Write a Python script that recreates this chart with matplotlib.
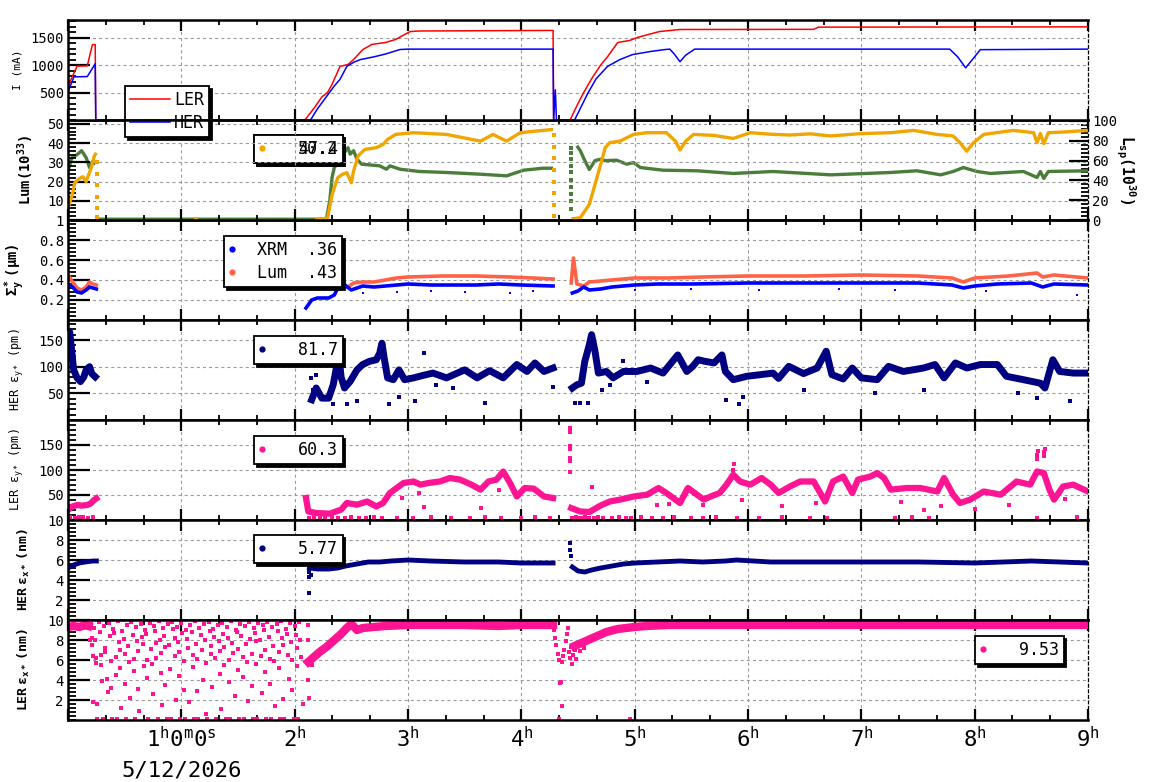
import numpy as np
import matplotlib
matplotlib.use('Agg')
import matplotlib.pyplot as plt
from matplotlib.lines import Line2D
from matplotlib.ticker import MultipleLocator, AutoMinorLocator
import matplotlib.transforms as mtrans

plt.rcParams.update({
    'font.family': ['DejaVu Sans Mono', 'DejaVu Sans'],
    'mathtext.fontset': 'custom',
    'mathtext.rm': 'DejaVu Sans Mono',
    'mathtext.it': 'DejaVu Sans Mono:italic',
    'mathtext.bf': 'DejaVu Sans Mono:bold',
    'mathtext.sf': 'DejaVu Sans Mono',
    'mathtext.default': 'rm',
    'lines.scale_dashes': False,
})
nan = np.nan

# ---------------- data (time in hours) ----------------
# Panel 1: beam currents (mA)
ler_cur_t = [0.0, 0.08, 0.17, 0.215, 0.24, 0.245, 2.09, 2.18, 2.24, 2.29, 2.33, 2.40, 2.47, 2.52, 2.60,
             2.68, 2.80, 2.89, 2.97, 3.02, 3.10, 4.28, 4.285, 4.43, 4.50, 4.55, 4.62, 4.70, 4.76, 4.85,
             4.96, 5.02, 5.12, 5.22, 5.40, 6.58, 6.62, 9.0]
ler_cur_v = [615, 980, 985, 1370, 1375, 0, 0, 240, 420, 500, 650, 975, 1010, 1100, 1280,
             1375, 1410, 1465, 1556, 1610, 1620, 1630, 0, 0, 300, 500, 750, 1000, 1150, 1410,
             1450, 1500, 1556, 1610, 1647, 1650, 1690, 1695]
her_cur_t = [0.0, 0.053, 0.17, 0.24, 0.245, 2.14, 2.20, 2.30, 2.35, 2.40, 2.46, 2.52, 2.58, 2.70,
             2.80, 2.93, 3.00, 4.28, 4.285, 4.30, 4.31, 4.47, 4.59, 4.66, 4.76, 4.87, 4.98, 5.14,
             5.27, 5.31, 5.35, 5.40, 5.45, 5.53, 7.78, 7.85, 7.92, 7.98, 8.05, 9.0]
her_cur_v = [513, 786, 790, 1023, 0, 0, 200, 480, 620, 740, 975, 1050, 1100, 1150,
             1200, 1283, 1290, 1290, 0, 550, 0, 0, 500, 750, 975, 1100, 1190, 1247,
             1283, 1290, 1200, 1060, 1180, 1290, 1290, 1150, 950, 1100, 1280, 1290]

# Panel 2: luminosity (left axis, 1e33) and specific luminosity (right axis, 1e30)
lum_t = [0.0, 0.035, 0.06, 0.10, 0.13, 0.16, 0.185, 0.21, 0.23, 0.25, nan,
         2.18, 2.29, 2.33, 2.38, 2.42, 2.46, 2.50, 2.52, 2.56, 2.62, 2.72, 2.78, 2.82, 2.89, 3.05,
         3.34, 3.52, 3.64, 3.75, 3.87, 3.99, 4.14, 4.28, nan,
         4.44, 4.52, 4.60, 4.65, 4.70, 4.74, 4.78, 4.87, 4.99, 5.11, 5.28, 5.36, 5.40, 5.45, 5.52,
         5.70, 5.87, 6.02, 6.20, 6.37, 6.55, 6.73, 6.99, 7.26, 7.46, 7.67, 7.81, 7.87, 7.93, 7.99,
         8.08, 8.34, 8.52, 8.55, 8.58, 8.61, 8.65, 8.80, 9.0]
lum_v = [6.4, 12.6, 19.4, 21.5, 22.5, 20.0, 24.0, 28.0, 33.0, 35.0, nan,
         0.5, 0.8, 13.3, 22.0, 23.7, 24.6, 19.4, 25.5, 33.4, 36.7, 37.6, 39.3, 41.9, 44.5, 45.4,
         44.5, 42.4, 41.0, 44.5, 41.0, 45.4, 46.3, 47.1, nan,
         0.5, 1.2, 8.1, 18.5, 28.9, 37.6, 40.2, 41.0, 44.5, 45.4, 45.4, 41.0, 36.4, 41.0, 44.5,
         44.0, 42.4, 45.4, 44.6, 44.2, 44.8, 43.7, 44.9, 45.4, 46.6, 44.5, 43.7, 40.2, 35.8, 40.2,
         44.5, 46.6, 45.4, 40.2, 45.0, 39.7, 45.4, 45.8, 46.6]
lum_drop_t = [0.255, 0.255, 0.256, 0.256, 0.257, 0.257, 1.13,
              4.29, 4.29, 4.29, 4.29, 4.29, 4.29, 4.29, 4.29]
lum_drop_v = [30, 24, 18, 12, 6, 1.5, 0.5,
              44, 38, 32, 26, 20, 14, 8, 2]
lsp_t = [0.0, 0.035, 0.08, 0.12, 0.16, 0.19, 0.215, 0.24, nan,
         0.25, 2.28, 2.31, 2.33, 2.35, 2.40, 2.45, 2.47, 2.49, 2.52, 2.55, 2.59, 2.75, 2.81, 2.84,
         2.93, 3.10, 3.34, 3.63, 3.87, 4.02, 4.19, 4.28, nan,
         4.49, 4.52, 4.56, 4.60, 4.65, 4.70, 4.74, 4.84, 4.93, 4.99, 5.05, 5.25, 5.55, 5.87, 6.22,
         6.73, 7.26, 7.49, 7.70, 7.81, 7.90, 8.02, 8.14, 8.43, 8.55, 8.58, 8.61, 8.65, 9.0]
lsp_v = [49, 63, 66, 70, 63, 53, 59, 56, nan,
         0.8, 0.8, 19.7, 43, 53, 60, 70, 73, 66.5, 70, 61.4, 56.4, 54.7, 51.3, 54.7,
         51.3, 49, 48, 46.3, 44.6, 50.3, 52.3, 52.3, nan,
         75, 70, 60, 51, 60, 61.4, 60, 60.4, 56.4, 58, 53, 50.3, 49.7, 47, 49,
         45.6, 48, 49.7, 45.6, 49, 53, 49, 47, 49, 43, 49, 42, 49, 49.7]
lsp_drop_t = [4.44] * 10
lsp_drop_v = [73, 68, 62, 55, 48, 40, 33, 26, 19, 11]

# Panel 3: vertical beam size (um)
xrm_t = [0.0, 0.04, 0.08, 0.12, 0.16, 0.19, 0.22, 0.25, nan,
         2.10, 2.15, 2.20, 2.30, 2.35, 2.38, 2.41, 2.44, 2.50, 2.55, 2.60, 2.70, 2.80, 2.90, 3.00,
         3.20, 3.40, 3.60, 3.80, 4.00, 4.28, nan,
         4.45, 4.50, 4.55, 4.60, 4.70, 4.80, 5.00, 5.20, 5.50, 6.00, 6.50, 7.00, 7.50, 7.80, 7.90,
         8.00, 8.20, 8.50, 8.60, 8.70, 9.00]
xrm_v = [0.35, 0.33, 0.28, 0.27, 0.30, 0.33, 0.32, 0.31, nan,
         0.12, 0.20, 0.22, 0.22, 0.25, 0.32, 0.43, 0.35, 0.30, 0.32, 0.34, 0.33, 0.34, 0.35, 0.36,
         0.35, 0.35, 0.35, 0.36, 0.35, 0.34, nan,
         0.27, 0.29, 0.33, 0.30, 0.31, 0.33, 0.35, 0.36, 0.36, 0.37, 0.37, 0.37, 0.37, 0.35, 0.32,
         0.34, 0.36, 0.37, 0.33, 0.36, 0.35]
xrm_dots_t = [2.6, 2.9, 3.2, 3.5, 3.9, 4.1, 5.0, 5.5, 6.1, 6.8, 7.3, 8.1, 8.9]
xrm_dots_v = [0.27, 0.28, 0.29, 0.28, 0.27, 0.29, 0.30, 0.31, 0.30, 0.31, 0.30, 0.29, 0.25]
lsz_t = [0.0, 0.04, 0.08, 0.12, 0.16, 0.19, 0.22, 0.25, nan,
         2.32, 2.34, 2.37, 2.42, 2.47, 2.52, 2.60, 2.70, 2.80, 2.90, 3.00, 3.30, 3.60, 3.90, 4.10,
         4.28, nan,
         4.44, 4.46, 4.49, 4.55, 4.60, 4.70, 4.80, 5.00, 5.30, 5.60, 6.00, 6.50, 7.00, 7.50, 7.80,
         7.90, 8.00, 8.30, 8.55, 8.60, 8.70, 9.00]
lsz_v = [0.45, 0.38, 0.32, 0.30, 0.33, 0.38, 0.36, 0.35, nan,
         0.40, 0.62, 0.42, 0.37, 0.33, 0.37, 0.38, 0.38, 0.40, 0.42, 0.43, 0.44, 0.44, 0.43, 0.42,
         0.41, nan,
         0.37, 0.62, 0.36, 0.34, 0.38, 0.39, 0.40, 0.42, 0.42, 0.43, 0.44, 0.44, 0.45, 0.44, 0.42,
         0.38, 0.42, 0.44, 0.47, 0.43, 0.45, 0.42]

# Panel 4: HER vertical emittance (pm)
hey_t = [0.0, 0.015, 0.035, 0.05, 0.08, 0.11, 0.14, 0.16, 0.19, 0.21, 0.24, nan,
         2.15, 2.19, 2.24, 2.30, 2.34, 2.37, 2.39, 2.41, 2.44, 2.49, 2.55, 2.60, 2.66, 2.72, 2.75,
         2.77, 2.79, 2.82, 2.87, 2.92, 2.97, 3.05, 3.14, 3.22, 3.34, 3.50, 3.61, 3.72, 3.84, 3.96,
         4.05, 4.12, 4.20, 4.28, nan,
         4.45, 4.49, 4.53, 4.56, 4.60, 4.62, 4.65, 4.68, 4.75, 4.81, 4.90, 5.02, 5.14, 5.25, 5.38,
         5.46, 5.51, 5.56, 5.62, 5.70, 5.77, 5.80, 5.87, 5.99, 6.11, 6.22, 6.27, 6.36, 6.49, 6.61,
         6.69, 6.74, 6.84, 6.92, 7.00, 7.14, 7.24, 7.37, 7.55, 7.65, 7.73, 7.83, 7.93, 8.05, 8.20,
         8.28, 8.43, 8.58, 8.62, 8.69, 8.75, 8.87, 9.0]
hey_v = [137, 165, 125, 94, 79, 72, 81, 94, 100, 87, 81, nan,
         38, 60, 41, 41, 66, 100, 122, 80, 60, 72.5, 94, 104, 110, 113, 125,
         144, 116, 79, 75.6, 94, 75.6, 79, 84, 88, 79, 94, 79, 92.5, 79, 104,
         91, 107, 91, 97.5, nan,
         60, 66, 69, 110, 141, 160, 129, 88, 91, 79, 91, 91, 97.5, 88, 122,
         91, 100, 113, 110, 107, 122, 91, 75.6, 82, 85, 88, 78, 100.6, 87, 97.5,
         129, 85, 77, 97.5, 79, 75.6, 100.6, 91, 97.5, 104, 79, 107, 97.5, 104, 104,
         82, 75.6, 69, 60, 113, 91, 88, 88]
hey_dots_t = [2.19, 2.19, 2.19, 2.19, 2.22, 2.14, 2.16, 2.34, 2.46, 2.55, 2.83, 2.92, 3.06, 3.14,
              3.25, 3.40, 3.68, 4.28, 4.47, 4.52, 4.59, 4.71, 4.78, 4.90, 5.11, 5.81, 5.92, 5.96,
              6.49, 7.12, 7.55, 8.38, 8.55, 8.84]
hey_dots_v = [60, 85, 110, 135, 152, 79, 57, 30, 30, 36, 30, 44, 36, 126,
              66, 60, 32, 62, 32, 32, 32, 57, 66, 111, 72, 38, 30, 43,
              57, 51, 57, 51, 41, 35]

# Panel 5: LER vertical emittance (pm)
ley_t = [0.0, 0.035, 0.08, 0.12, 0.17, 0.20, 0.23, 0.25, nan,
         2.10, 2.12, 2.19, 2.31, 2.41, 2.46, 2.55, 2.64, 2.72, 2.78, 2.84, 2.90, 2.96, 3.05, 3.11,
         3.18, 3.28, 3.37, 3.46, 3.56, 3.64, 3.71, 3.78, 3.84, 3.90, 3.96, 4.03, 4.11, 4.20, 4.28, nan,
         4.44, 4.52, 4.60, 4.70, 4.78, 4.87, 4.99, 5.11, 5.21, 5.28, 5.40, 5.47, 5.55, 5.61, 5.67,
         5.75, 5.81, 5.87, 5.93, 6.02, 6.12, 6.20, 6.27, 6.37, 6.46, 6.58, 6.68, 6.75, 6.84, 6.92,
         6.97, 7.08, 7.14, 7.20, 7.26, 7.40, 7.52, 7.67, 7.73, 7.81, 7.87, 7.96, 8.08, 8.23, 8.37,
         8.49, 8.55, 8.61, 8.66, 8.70, 8.78, 8.87, 9.0]
ley_v = [20, 26.7, 30, 28.7, 30, 33, 40, 43, nan,
         44, 17, 14, 12.7, 20.7, 34, 30.7, 37, 27, 34, 54, 64, 74, 77, 70.7,
         74, 77, 84, 80.7, 70.7, 60.7, 77, 80.7, 97, 74, 47, 64, 62.7, 47, 44, nan,
         24, 17, 16, 29, 37, 40.7, 47, 50.7, 64, 54, 34, 64, 50.7, 40.7, 47,
         54, 70.7, 90.7, 77, 70.7, 84, 70.7, 54, 67, 77, 77, 37, 77, 87, 54,
         80.7, 87, 94, 84, 60.7, 64, 64, 57, 84, 50.7, 34, 40.7, 57, 50.7, 77,
         70.7, 97, 94, 60.7, 40.7, 67, 70.7, 57]
ley_dots_t = [4.43, 4.43, 4.43, 4.43, 4.43, 4.43, 4.43, 5.87, 5.88, 8.55, 8.55, 8.56, 8.61, 8.61,
              8.62, 3.14, 3.80, 3.64, 4.62, 5.20, 5.30, 5.60, 5.95, 6.30, 6.60, 7.35, 7.55, 7.70,
              8.00, 8.30, 8.80, 2.95, 3.10,
              0.02, 0.06, 0.10, 0.13, 0.18, 0.22, 2.13, 2.17, 2.22, 2.27, 2.33, 2.38, 2.44, 2.50,
              2.57, 2.63, 2.70, 2.77, 2.90, 3.04, 3.20, 3.38, 3.55, 3.68, 3.82, 4.00, 4.12, 4.25,
              4.45, 4.48, 4.50, 4.53, 4.56, 4.60, 4.64, 4.68, 4.72, 4.80, 4.86, 4.92, 4.97, 5.06,
              5.15, 5.25, 5.35, 5.50, 5.60, 5.72, 5.90, 6.10, 6.30, 6.55, 6.70, 7.30, 7.45, 7.60,
              8.55, 8.90]
ley_dots_v = [184, 176, 148, 142, 125, 118, 96, 100, 112, 122, 130, 138, 128, 136,
              143, 27, 61, 24, 67, 30, 33, 31, 40, 28, 34, 36, 20, 29,
              22, 30, 42, 44, 55,
              6, 5, 7, 6, 5, 7, 5, 6, 4, 5, 6, 5, 4, 6,
              5, 4, 6, 5, 4, 5, 6, 4, 5, 6, 4, 5, 6, 4,
              5, 6, 4, 5, 6, 4, 5, 6, 4, 5, 6, 4, 5, 6,
              4, 5, 6, 5, 4, 6, 5, 4, 6, 5, 4, 5, 6, 4,
              5, 6]

# Panel 6: HER horizontal emittance (nm)
hex_t = [0.0, 0.05, 0.10, 0.15, 0.22, 0.25, nan,
         2.13, 2.20, 2.30, 2.38, 2.45, 2.55, 2.65, 2.75, 2.85, 3.00, 3.20, 3.50, 3.80, 4.00, 4.28, nan,
         4.45, 4.50, 4.56, 4.62, 4.70, 4.80, 4.90, 5.00, 5.20, 5.40, 5.60, 5.80, 5.90, 6.20, 6.50,
         7.00, 7.50, 8.00, 8.50, 9.00]
hex_v = [5.2, 5.5, 5.7, 5.8, 5.9, 5.9, nan,
         5.2, 5.1, 5.1, 5.2, 5.4, 5.6, 5.8, 5.8, 5.9, 6.0, 5.9, 5.8, 5.8, 5.7, 5.7, nan,
         5.3, 4.9, 4.8, 5.0, 5.2, 5.4, 5.6, 5.7, 5.8, 5.9, 5.8, 5.9, 6.0, 5.8, 5.8,
         5.8, 5.8, 5.7, 5.9, 5.7]
hex_dots_t = [2.13, 2.13, 2.13, 2.13, 2.13, 2.14, 4.43, 4.43, 4.44]
hex_dots_v = [2.7, 4.3, 4.8, 5.6, 6.3, 4.5, 7.7, 7.0, 6.4]

# Panel 7: LER horizontal emittance (nm)
lex_t = [0.0, 0.05, 0.10, 0.15, 0.18, nan,
         2.12, 2.17, 2.22, 2.28, 2.34, 2.40, 2.46, 2.50, 2.55, 2.60, 2.70, 2.80, 3.00, 3.20, 3.50,
         3.80, 4.00, 4.28, nan,
         4.47, 4.55, 4.65, 4.75, 4.85, 5.00, 5.10, 5.30, 5.60, 6.00, 6.50, 7.00, 7.50, 8.00, 8.50, 9.00]
lex_v = [9.3, 9.4, 9.3, 9.5, 9.4, nan,
         5.8, 6.3, 6.8, 7.3, 7.9, 8.5, 9.2, 9.6, 9.0, 9.2, 9.3, 9.4, 9.5, 9.5, 9.5,
         9.4, 9.5, 9.5, nan,
         7.4, 7.8, 8.3, 8.8, 9.1, 9.3, 9.4, 9.5, 9.5, 9.5, 9.5, 9.5, 9.5, 9.5, 9.5, 9.5]
lex_scatter = [
    (0.19, 8.0), (0.20, 9.6), (0.21, 8.2), (0.21, 7.5), (0.22, 6.4), (0.22, 1.8), (0.23, 9.2),
    (0.24, 8.0), (0.25, 6.2), (0.25, 5.7), (0.26, 1.6), (0.26, 0.1), (0.27, 9.8), (0.28, 8.8),
    (0.29, 6.5), (0.29, 5.5), (0.30, 3.9), (0.31, 0.1), (0.32, 9.4), (0.33, 7.2), (0.33, 6.8),
    (0.34, 4.1), (0.35, 2.8), (0.36, 9.7), (0.37, 8.4), (0.38, 5.9), (0.38, 3.2), (0.39, 0.1),
    (0.40, 9.1), (0.41, 8.7), (0.42, 6.3), (0.42, 4.5), (0.43, 0.1), (0.44, 9.9), (0.45, 7.8),
    (0.46, 7.0), (0.46, 5.2), (0.47, 1.2), (0.48, 8.9), (0.49, 8.1), (0.50, 6.6), (0.50, 3.6),
    (0.51, 0.1), (0.52, 9.5), (0.53, 7.4), (0.54, 5.8), (0.55, 2.2), (0.56, 9.8), (0.57, 8.5),
    (0.58, 6.1), (0.58, 4.9), (0.59, 0.1), (0.60, 9.3), (0.61, 7.9), (0.62, 6.9), (0.62, 3.1),
    (0.63, 0.9), (0.64, 9.6), (0.65, 8.3), (0.66, 7.6), (0.67, 5.4), (0.68, 9.0), (0.69, 8.6),
    (0.70, 6.0), (0.70, 4.2), (0.71, 0.1), (0.72, 9.7), (0.73, 7.1), (0.74, 5.6), (0.75, 2.6),
    (0.76, 9.4), (0.77, 8.9), (0.78, 7.7), (0.78, 6.2), (0.79, 0.1), (0.80, 9.9), (0.81, 8.0),
    (0.82, 6.7), (0.82, 4.7), (0.83, 1.5), (0.84, 9.2), (0.85, 8.4), (0.86, 7.3), (0.86, 3.5),
    (0.87, 0.1), (0.88, 9.6), (0.89, 7.5), (0.90, 5.1), (0.91, 0.1), (0.92, 9.8), (0.93, 9.1),
    (0.94, 8.2), (0.94, 6.4), (0.95, 2.0), (0.96, 9.3), (0.97, 7.8), (0.98, 6.8), (0.98, 4.4),
    (0.99, 0.1), (1.00, 9.7), (1.01, 8.7), (1.02, 5.9), (1.02, 3.0), (1.03, 0.1), (1.04, 9.0),
    (1.05, 8.1), (1.06, 7.2), (1.07, 1.8), (1.08, 9.5), (1.09, 8.8), (1.10, 6.5), (1.10, 5.3),
    (1.11, 0.1), (1.12, 9.9), (1.13, 7.6), (1.14, 6.1), (1.14, 2.9), (1.15, 0.1), (1.16, 9.2),
    (1.17, 8.5), (1.18, 7.0), (1.19, 4.0), (1.20, 9.6), (1.21, 8.0), (1.22, 5.7), (1.22, 0.6),
    (1.23, 0.1), (1.24, 9.8), (1.25, 8.9), (1.26, 7.4), (1.26, 6.6), (1.27, 3.3), (1.28, 9.1),
    (1.29, 8.3), (1.30, 6.2), (1.31, 0.1), (1.32, 9.5), (1.33, 7.9), (1.34, 6.9), (1.34, 4.6),
    (1.35, 1.1), (1.36, 9.7), (1.37, 8.6), (1.38, 7.3), (1.38, 5.5), (1.39, 0.1), (1.40, 9.3),
    (1.41, 8.2), (1.42, 6.0), (1.42, 3.8), (1.43, 0.1), (1.44, 9.9), (1.45, 7.7), (1.46, 6.7),
    (1.47, 2.4), (1.48, 9.0), (1.49, 8.8), (1.50, 7.1), (1.50, 5.0), (1.51, 0.1), (1.52, 9.6),
    (1.53, 8.4), (1.54, 6.3), (1.54, 4.3), (1.55, 0.1), (1.56, 9.4), (1.57, 7.6), (1.58, 5.8),
    (1.59, 1.9), (1.60, 9.8), (1.61, 8.1), (1.62, 6.6), (1.62, 3.4), (1.63, 0.1), (1.64, 9.2),
    (1.65, 8.7), (1.66, 7.9), (1.66, 5.6), (1.67, 0.1), (1.68, 9.7), (1.69, 8.0), (1.70, 6.4),
    (1.71, 2.7), (1.72, 9.5), (1.73, 9.0), (1.74, 7.0), (1.74, 4.8), (1.75, 0.1), (1.76, 9.8),
    (1.77, 8.3), (1.78, 6.1), (1.78, 3.6), (1.79, 0.1), (1.80, 9.3), (1.81, 7.4), (1.82, 5.9),
    (1.83, 1.4), (1.84, 9.6), (1.85, 8.9), (1.86, 6.8), (1.86, 5.2), (1.87, 0.1), (1.88, 9.9),
    (1.89, 8.2), (1.90, 7.5), (1.90, 2.1), (1.91, 0.1), (1.92, 9.1), (1.93, 8.6), (1.94, 6.5),
    (1.95, 4.1), (1.96, 9.7), (1.97, 7.8), (1.98, 6.0), (1.98, 3.0), (1.99, 0.1), (2.00, 9.4),
    (2.01, 8.5), (2.02, 7.2), (2.02, 5.4), (2.03, 0.1), (2.04, 9.8), (2.05, 8.0), (2.06, 6.3),
    (2.07, 1.6), (2.12, 9.5), (2.12, 8.0), (2.12, 4.0), (2.13, 2.2), (2.14, 6.2), (2.15, 5.5),
    (4.29, 9.0), (4.30, 8.2), (4.31, 7.5), (4.32, 6.6), (4.33, 6.0), (4.34, 3.7), (4.35, 3.8),
    (4.36, 5.8), (4.37, 6.4), (4.38, 7.0), (4.39, 7.9), (4.40, 8.6), (4.41, 9.2), (4.42, 6.8),
    (4.43, 6.2), (4.44, 7.3), (4.45, 5.6), (4.46, 6.5), (4.47, 7.0), (4.48, 6.1), (4.50, 7.6),
    (4.52, 6.9), (4.55, 7.2), (4.33, 0.1), (4.36, 1.4), (4.96, 0.1),
]

# legends / labels
p1_labels = ['LER', 'HER']
p2_label_a, p2_label_b = '50.2', '47.4'
p3_labels = ['XRM  .36', 'Lum  .43']
p4_label, p5_label, p6_label, p7_label = '81.7', '60.3', '5.77', '9.53'
hour_labels = ['', r'$1^h0^m0^s$', r'$2^h$', r'$3^h$', r'$4^h$', r'$5^h$', r'$6^h$',
               r'$7^h$', r'$8^h$', r'$9^h$']
date_label = '5/12/2026'

# ---------------- colours ----------------
RED, BLUE = '#ff0000', '#0000ff'
ORANGE, GREEN = '#f0a500', '#4a7d3a'
TOMATO = '#ff6347'
NAVY = '#000080'
PINK = '#ff1493'

# ---------------- figure ----------------
W, H = 1160, 782
fig = plt.figure(figsize=(W / 100, H / 100), dpi=100)


def rect(i):
    top = 20 + 100 * i
    return [68 / W, 1 - (top + 100) / H, 1020 / W, 100 / H]


axes = [fig.add_axes(rect(i)) for i in range(7)]


def style(ax, ylim, yticks, ylabels):
    ax.set_xlim(0, 9)
    ax.set_ylim(*ylim)
    ax.xaxis.set_major_locator(MultipleLocator(1))
    ax.xaxis.set_minor_locator(MultipleLocator(1 / 3))
    ax.set_yticks(yticks)
    ax.set_yticklabels(ylabels)
    ax.yaxis.set_minor_locator(AutoMinorLocator(5))
    ax.tick_params(axis='x', which='major', direction='in', top=True, bottom=True,
                   length=8, width=1.6, labelbottom=False)
    ax.tick_params(axis='x', which='minor', direction='in', top=True, bottom=True,
                   length=3.5, width=1.3)
    ax.tick_params(axis='y', which='major', direction='in', left=True, right=False,
                   length=16, width=1.6, labelsize=10, pad=3)
    ax.tick_params(axis='y', which='minor', direction='in', left=True, right=False,
                   length=6, width=1.3)
    ax.grid(True, which='major', color='#999999', linestyle=(0, (2.2, 2.2)), linewidth=0.8)
    ax.set_axisbelow(True)
    for s in ['left', 'top', 'bottom']:
        ax.spines[s].set_linewidth(1.8)
    ax.spines['right'].set_linestyle((0, (2, 2)))
    ax.spines['right'].set_linewidth(0.9)


def box_legend(ax, handles, labels, x_px, y_px, hl, htp, frame=True, zorder=5):
    leg = ax.legend(handles, labels, loc='upper left',
                    bbox_to_anchor=(x_px / W, 1 - y_px / H), bbox_transform=fig.transFigure,
                    borderaxespad=0, borderpad=0.3, handlelength=hl, handletextpad=htp,
                    labelspacing=0.3, fancybox=False, frameon=frame,
                    shadow={'color': 'black', 'alpha': 1} if frame else False,
                    framealpha=1, edgecolor='black',
                    prop={'family': 'DejaVu Sans Mono', 'size': 12})
    if frame:
        leg.get_frame().set_linewidth(1.3)
    leg.set_zorder(zorder)
    return leg


def dot(color, alpha=1.0):
    return Line2D([], [], marker='o', color=color, linestyle='none', markersize=4.5,
                  markeredgewidth=0, alpha=alpha)


# Panel 1
ax = axes[0]
style(ax, (0, 1820), [500, 1000, 1500], ['500', '1000', '1500'])
ax.plot(ler_cur_t, ler_cur_v, color=RED, lw=1.1, zorder=2)
ax.plot(her_cur_t, her_cur_v, color=BLUE, lw=1.1, zorder=2.1)
ax.set_ylabel('I (mA)', fontsize=8)
ax.yaxis.set_label_coords(-0.045, 0.5)
box_legend(ax, [Line2D([], [], color=RED, lw=1.1), Line2D([], [], color=BLUE, lw=1.1)],
           p1_labels, 125, 86, 2.4, 0.25, zorder=1)
ax.set_zorder(20)

# Panel 2
ax = axes[1]
style(ax, (0, 52), [10, 20, 30, 40, 50], ['10', '20', '30', '40', '50'])
ax.plot(lum_t, lum_v, color=ORANGE, lw=2.4, solid_capstyle='butt')
ax.plot(lum_drop_t, lum_drop_v, color=ORANGE, marker='s', ms=2.2, mew=0, ls='none')
ax.set_ylabel(r'$\mathbf{Lum(10^{33})}$', fontsize=10)
ax.yaxis.set_label_coords(-0.031, 0.5)
axr = ax.twinx()
axr.set_ylim(0, 101)
axr.set_yticks([0, 20, 40, 60, 80, 100])
axr.yaxis.set_minor_locator(AutoMinorLocator(5))
axr.tick_params(axis='y', which='major', direction='in', right=True, length=14, width=1.6,
                labelsize=10, pad=3)
axr.tick_params(axis='y', which='minor', direction='in', right=True, length=5, width=1.3)
for s in axr.spines.values():
    s.set_visible(False)
axr.plot(lsp_t, lsp_v, color=GREEN, lw=2.4, solid_capstyle='butt')
axr.plot(lsp_drop_t, lsp_drop_v, color=GREEN, marker='s', ms=2.2, mew=0, ls='none')
axr.set_ylabel(r'$\mathbf{L_{sp}(10^{30})}$', fontsize=10.5, rotation=-90)
axr.yaxis.set_label_coords(1.048, 0.5)
box_legend(axr, [dot(ORANGE)], [p2_label_a], 254, 135, 0.4, 1.92)
axr.add_artist(axr.get_legend())
box_legend(ax, [dot(ORANGE, 0)], [p2_label_b], 254, 135, 0.4, 1.92, frame=False)
ax.set_zorder(axr.get_zorder() + 1)
ax.patch.set_visible(False)

# Panel 3
ax = axes[2]
style(ax, (0, 1.0), [0.2, 0.4, 0.6, 0.8, 1.0], ['0.2', '0.4', '0.6', '0.8', '1'])
ax.plot(lsz_t, lsz_v, color=TOMATO, lw=2.6)
ax.plot(xrm_t, xrm_v, color=BLUE, lw=2.6)
ax.plot(xrm_dots_t, xrm_dots_v, color=BLUE, marker='s', ms=2.0, mew=0, ls='none')
ax.set_ylabel(r'$\mathbf{\Sigma_y^*\ (μm)}$', fontsize=10)
ax.yaxis.set_label_coords(-0.040, 0.5)
box_legend(ax, [dot(BLUE), dot(TOMATO)], p3_labels, 224, 236, 0.4, 1.28)

# Panel 4
ax = axes[3]
style(ax, (0, 187.5), [50, 100, 150], ['50', '100', '150'])
ax.plot(hey_t, hey_v, color=NAVY, lw=5.0)
ax.plot(hey_dots_t, hey_dots_v, color=NAVY, marker='s', ms=2.2, mew=0, ls='none')
ax.set_ylabel(r'HER ε$_{y*}$ (pm)', fontsize=8.5)
ax.yaxis.set_label_coords(-0.041, 0.5)
box_legend(ax, [dot(NAVY)], [p4_label], 254, 336, 0.4, 1.92)

# Panel 5
ax = axes[4]
style(ax, (0, 200), [50, 100, 150], ['50', '100', '150'])
ax.plot(ley_t, ley_v, color=PINK, lw=4.5)
ax.plot(ley_dots_t, ley_dots_v, color=PINK, marker='s', ms=2.2, mew=0, ls='none')
ax.set_ylabel(r'LER ε$_{y*}$ (pm)', fontsize=8.5)
ax.yaxis.set_label_coords(-0.041, 0.5)
box_legend(ax, [dot(PINK)], [p5_label], 254, 436, 0.4, 1.92)

# Panel 6
ax = axes[5]
style(ax, (0, 10), [2, 4, 6, 8, 10], ['2', '4', '6', '8', '10'])
ax.plot(hex_t, hex_v, color=NAVY, lw=3.5)
ax.plot(hex_dots_t, hex_dots_v, color=NAVY, marker='s', ms=2.2, mew=0, ls='none')
ax.set_ylabel(r'$\mathbf{HER\ ε_{x*}\ (nm)}$', fontsize=9.5)
ax.yaxis.set_label_coords(-0.035, 0.5)
box_legend(ax, [dot(NAVY)], [p6_label], 254, 535, 0.4, 1.92)

# Panel 7
ax = axes[6]
style(ax, (0, 10), [2, 4, 6, 8, 10], ['2', '4', '6', '8', '10'])
ax.plot(lex_t, lex_v, color=PINK, lw=6)
sc_t = [p[0] for p in lex_scatter]
sc_v = [p[1] for p in lex_scatter]
ax.plot(sc_t, sc_v, color=PINK, marker='s', ms=2.6, mew=0, ls='none', clip_on=False)
ax.set_ylabel(r'$\mathbf{LER\ ε_{x*}\ (nm)}$', fontsize=9.5)
ax.yaxis.set_label_coords(-0.035, 0.5)
box_legend(ax, [dot(PINK)], [p7_label], 975, 636, 0.4, 1.92)
ax.set_xticks(range(10))
ax.set_xticklabels(hour_labels)
ax.tick_params(axis='x', which='major', labelbottom=True, labelsize=16, pad=4)
ax.text(1, -0.5, date_label, transform=mtrans.blended_transform_factory(ax.transData, ax.transAxes),
        ha='center', va='center', fontsize=16)

fig.savefig('out.png', dpi=100)
